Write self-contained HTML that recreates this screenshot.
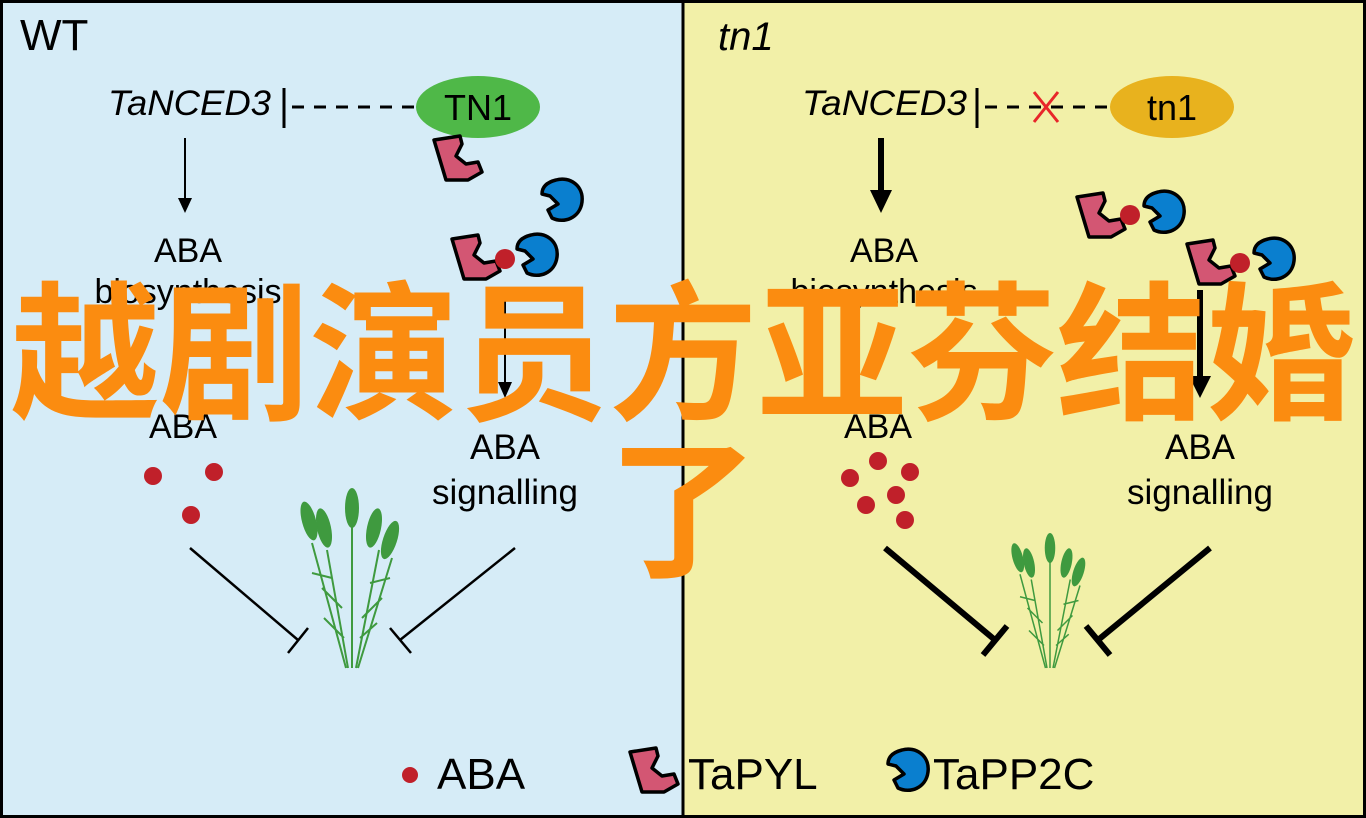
<!DOCTYPE html>
<html><head><meta charset="utf-8"><style>
html,body{margin:0;padding:0;width:1366px;height:818px;overflow:hidden;background:#fff}
svg text{font-family:"Liberation Sans",sans-serif}
</style></head><body>
<svg width="1366" height="818" viewBox="0 0 1366 818" xmlns="http://www.w3.org/2000/svg">
<defs>
<g id="pyl"><path d="M-28,-18 L-2,-22 L0,-14 L-6,-2 L4,6 L16,4 L20,14 L6,22 L-16,22 Z" fill="#d35673" stroke="#000" stroke-width="3.5" stroke-linejoin="round"/></g>
<g id="pp2c"><path d="M-4,-20 C10,-24 24,-14 22,2 C20,18 4,24 -8,18 L-12,10 L-2,4 L-10,-4 L-18,-6 C-18,-14 -12,-18 -4,-20 Z" fill="#0a7fcf" stroke="#000" stroke-width="3.5" stroke-linejoin="round"/></g>
<g id="plant" stroke="#3f9a3f" fill="none" stroke-width="2">
<path d="M0,0 L0,-150 M-4,0 L-25,-118 M4,0 L27,-118 M-6,0 L-40,-125 M6,0 L40,-110 M-10,-60 L-30,-80 M10,-50 L30,-70 M-8,-30 L-28,-50 M8,-30 L25,-45 M-20,-90 L-40,-95 M18,-85 L38,-90"/>
<g fill="#3f9a3f" stroke="none">
<ellipse cx="0" cy="-160" rx="7" ry="20"/><ellipse cx="-28" cy="-140" rx="7" ry="20" transform="rotate(-12 -28 -140)"/><ellipse cx="-43" cy="-147" rx="7" ry="20" transform="rotate(-15 -43 -147)"/><ellipse cx="22" cy="-140" rx="7" ry="20" transform="rotate(12 22 -140)"/><ellipse cx="38" cy="-128" rx="7" ry="20" transform="rotate(18 38 -128)"/>
</g></g>
</defs>
<rect x="0" y="0" width="683" height="818" fill="#d6ecf7"/>
<rect x="683" y="0" width="683" height="818" fill="#f2f0a8"/>
<line x1="683" y1="0" x2="683" y2="818" stroke="#000" stroke-width="3"/>
<rect x="1.5" y="1.5" width="1363" height="815" fill="none" stroke="#000" stroke-width="3"/>
<!-- left -->
<text x="20" y="50" font-size="44">WT</text>
<text x="108" y="115" font-size="35" font-style="italic" textLength="163" lengthAdjust="spacingAndGlyphs">TaNCED3</text>
<line x1="284" y1="88" x2="284" y2="128" stroke="#000" stroke-width="3"/>
<line x1="292" y1="107" x2="420" y2="107" stroke="#000" stroke-width="3" stroke-dasharray="12,10"/>
<ellipse cx="478" cy="107" rx="62" ry="31" fill="#4fb848"/>
<text x="478" y="120" font-size="36" text-anchor="middle">TN1</text>
<use href="#pyl" x="462" y="158"/>
<use href="#pp2c" x="560" y="200"/>
<use href="#pyl" x="480" y="257"/>
<use href="#pp2c" x="535" y="255"/>
<circle cx="505" cy="259" r="10" fill="#c0202a"/>
<line x1="185" y1="138" x2="185" y2="200" stroke="#000" stroke-width="2"/><path d="M178,198 L185,213 L192,198 Z"/>
<text x="188" y="262" font-size="34" text-anchor="middle">ABA</text>
<text x="188" y="303" font-size="34" text-anchor="middle">biosynthesis</text>
<text x="183" y="438" font-size="34" text-anchor="middle">ABA</text>
<line x1="505" y1="290" x2="505" y2="385" stroke="#000" stroke-width="2"/><path d="M498,382 L505,398 L512,382 Z"/>
<text x="505" y="459" font-size="35" text-anchor="middle">ABA</text>
<text x="505" y="504" font-size="35" text-anchor="middle">signalling</text>
<circle cx="153" cy="476" r="9" fill="#c0202a"/><circle cx="214" cy="472" r="9" fill="#c0202a"/><circle cx="191" cy="515" r="9" fill="#c0202a"/>
<line x1="190" y1="548" x2="298" y2="640" stroke="#000" stroke-width="2.5"/><line x1="288" y1="653" x2="308" y2="628" stroke="#000" stroke-width="2.5"/>
<line x1="515" y1="548" x2="400" y2="640" stroke="#000" stroke-width="2.5"/><line x1="390" y1="628" x2="411" y2="653" stroke="#000" stroke-width="2.5"/>
<use href="#plant" x="352" y="668"/>
<!-- right -->
<text x="718" y="50" font-size="40" font-style="italic">tn1</text>
<text x="802" y="115" font-size="35" font-style="italic" textLength="165" lengthAdjust="spacingAndGlyphs">TaNCED3</text>
<line x1="977" y1="88" x2="977" y2="128" stroke="#000" stroke-width="3"/>
<line x1="985" y1="107" x2="1110" y2="107" stroke="#000" stroke-width="3" stroke-dasharray="12,10"/>
<path d="M1034,92 L1058,122 M1058,92 L1034,122" stroke="#e8262a" stroke-width="3"/>
<ellipse cx="1172" cy="107" rx="62" ry="31" fill="#e8b21e"/>
<text x="1172" y="120" font-size="36" text-anchor="middle">tn1</text>
<use href="#pyl" x="1105" y="215"/><use href="#pp2c" x="1162" y="212"/><circle cx="1130" cy="215" r="10" fill="#c0202a"/>
<use href="#pyl" x="1215" y="262"/><use href="#pp2c" x="1272" y="259"/><circle cx="1240" cy="263" r="10" fill="#c0202a"/>
<line x1="881" y1="138" x2="881" y2="195" stroke="#000" stroke-width="6"/><path d="M870,190 L881,213 L892,190 Z"/>
<text x="884" y="262" font-size="34" text-anchor="middle">ABA</text>
<text x="884" y="303" font-size="34" text-anchor="middle">biosynthesis</text>
<text x="878" y="438" font-size="34" text-anchor="middle">ABA</text>
<line x1="1200" y1="290" x2="1200" y2="380" stroke="#000" stroke-width="6"/><path d="M1189,376 L1200,398 L1211,376 Z"/>
<text x="1200" y="459" font-size="35" text-anchor="middle">ABA</text>
<text x="1200" y="504" font-size="35" text-anchor="middle">signalling</text>
<g fill="#c0202a"><circle cx="850" cy="478" r="9"/><circle cx="878" cy="461" r="9"/><circle cx="910" cy="472" r="9"/><circle cx="866" cy="505" r="9"/><circle cx="896" cy="495" r="9"/><circle cx="905" cy="520" r="9"/></g>
<line x1="885" y1="548" x2="995" y2="640" stroke="#000" stroke-width="6"/><line x1="983" y1="655" x2="1007" y2="626" stroke="#000" stroke-width="6"/>
<line x1="1210" y1="548" x2="1098" y2="640" stroke="#000" stroke-width="6"/><line x1="1086" y1="626" x2="1110" y2="655" stroke="#000" stroke-width="6"/>
<use href="#plant" x="1050" y="668" transform="translate(1050 668) scale(0.75) translate(-1050 -668)"/>
<!-- legend -->
<circle cx="410" cy="775" r="8" fill="#c0202a"/>
<text x="437" y="789" font-size="44">ABA</text>
<use href="#pyl" x="658" y="770"/>
<text x="688" y="789" font-size="44">TaPYL</text>
<use href="#pp2c" x="906" y="770"/>
<text x="933" y="789" font-size="44">TaPP2C</text>
<!-- overlay -->
<g font-weight="bold" font-size="150" fill="#fb8c10" text-anchor="middle">
<text x="683" y="408" style="font-family:'Noto Sans CJK SC',sans-serif" textLength="1345" lengthAdjust="spacingAndGlyphs">越剧演员方亚芬结婚</text>
<text x="683" y="565" style="font-family:'Noto Sans CJK SC',sans-serif">了</text>
</g>
</svg>
</body></html>
